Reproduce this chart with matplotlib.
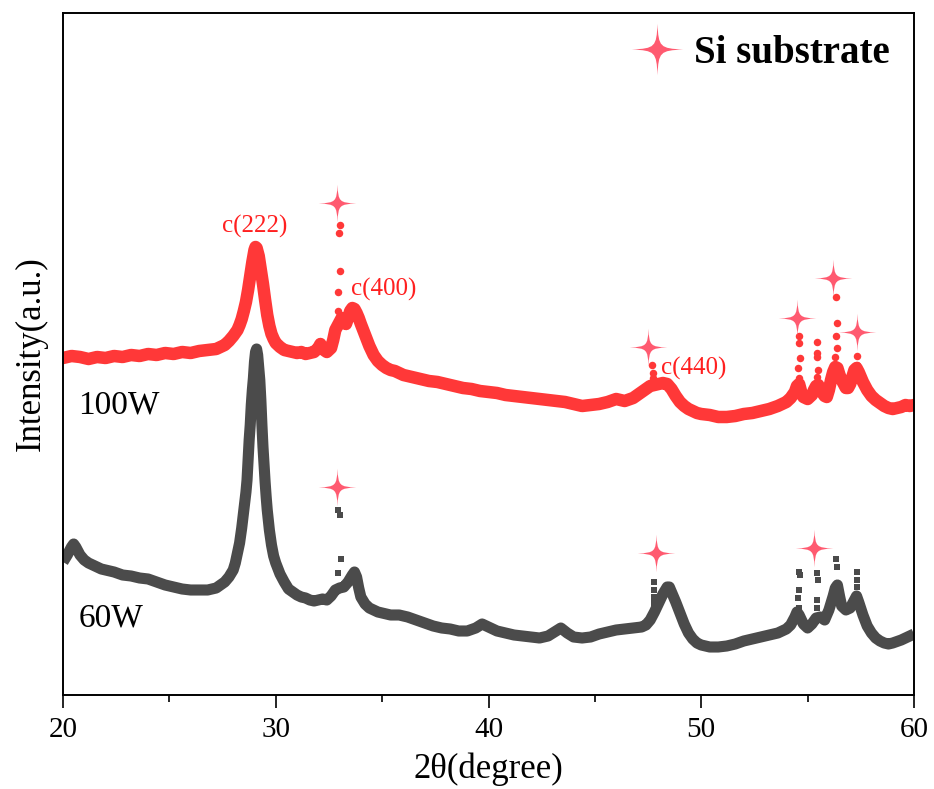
import matplotlib
matplotlib.use('Agg')
import matplotlib.pyplot as plt
from matplotlib.path import Path
from matplotlib.lines import Line2D
from matplotlib.ticker import MultipleLocator

plt.rcParams['font.family'] = ['Liberation Serif', 'DejaVu Serif']

# XRD patterns (2theta in degree, intensity in a.u., 100W already offset upward)
two_theta_100w = [
    20.0, 20.4, 20.8, 21.2, 21.6, 22.0, 22.4, 22.8, 23.2, 23.6, 24.0, 24.4, 24.8, 25.2, 25.6,
    26.0, 26.4, 26.8, 27.2, 27.4, 27.6, 27.8, 28.0, 28.2, 28.3, 28.4, 28.5, 28.6, 28.7, 28.8,
    28.9, 29.0, 29.05, 29.1, 29.2, 29.3, 29.4, 29.5, 29.6, 29.7, 29.8, 29.9, 30.0, 30.2, 30.4,
    30.6, 30.8, 31.0, 31.2, 31.4, 31.6, 31.8, 32.0, 32.1, 32.2, 32.4, 32.6, 32.7, 32.8, 33.0,
    33.1, 33.2, 33.3, 33.4, 33.5, 33.6, 33.7, 33.8, 33.9, 34.0, 34.2, 34.4, 34.6, 34.8, 35.0,
    35.2, 35.4, 35.6, 35.8, 36.0, 36.4, 36.8, 37.2, 37.6, 38.0, 38.4, 38.8, 39.2, 39.6, 40.0,
    40.4, 40.8, 41.2, 41.6, 42.0, 42.4, 42.8, 43.2, 43.6, 44.0, 44.4, 44.8, 45.2, 45.6, 46.0,
    46.4, 46.8, 47.0, 47.2, 47.4, 47.6, 47.8, 48.0, 48.2, 48.4, 48.6, 48.8, 49.0, 49.2, 49.4,
    49.6, 49.8, 50.0, 50.4, 50.8, 51.2, 51.6, 52.0, 52.4, 52.8, 53.2, 53.6, 54.0, 54.2, 54.4,
    54.5, 54.6, 54.7, 54.8, 55.0, 55.2, 55.3, 55.4, 55.5, 55.6, 55.8, 55.9, 56.0, 56.1, 56.2,
    56.3, 56.4, 56.5, 56.6, 56.8, 56.9, 57.0, 57.1, 57.2, 57.3, 57.4, 57.6, 57.8, 58.0, 58.2,
    58.4, 58.6, 58.8, 59.0, 59.2, 59.4, 59.6, 59.8, 60.0,
]
intensity_100w = [
    337, 339, 338, 336, 338, 337, 339, 338, 340, 339, 341, 340, 342, 341, 343,
    342, 344, 345, 346, 348, 350, 354, 359, 365, 370, 376, 384, 393, 405, 419,
    433, 445, 448, 447, 439, 425, 411, 395, 380, 369, 361, 356, 352, 348, 345,
    344, 343, 342, 343, 341, 342, 343, 347, 351, 346, 343, 347, 355, 365, 373,
    377, 375, 371, 377, 384, 387, 386, 382, 377, 371, 360, 349, 340, 334, 330,
    327, 325, 324, 322, 320, 318, 316, 314, 313, 311, 309, 307, 306, 304, 303,
    302, 300, 299, 298, 297, 296, 295, 294, 293, 291, 289, 290, 291, 293, 296,
    294, 297, 300, 303, 306, 309, 310, 311, 312, 311, 306, 299, 293, 289, 286,
    284, 282, 281, 280, 278, 278, 279, 281, 282, 284, 286, 289, 293, 297, 303,
    309, 311, 303, 298, 296, 300, 305, 309, 310, 305, 299, 298, 305, 315, 323,
    328, 327, 320, 315, 307, 307, 311, 318, 325, 327, 323, 313, 305, 299, 295,
    292, 289, 287, 286, 287, 288, 290, 289, 290,
]
# sharp Si reflections of the 100W film
si_theta_100w = [33.02, 32.98, 33.02, 32.94, 32.94,
                 47.70, 47.72, 47.72,
                 54.60, 54.58, 54.62, 54.56, 54.60,
                 55.45, 55.45, 55.43, 55.47, 55.45, 55.45,
                 56.35, 56.38, 56.33, 56.38, 56.30,
                 57.30, 57.30]
si_int_100w = [470, 462, 424, 403, 384,
               330, 322, 317,
               359, 352, 337, 327, 317,
               353, 342, 338, 325, 318, 312,
               398, 372, 359, 347, 338,
               339, 330]

two_theta_60w = [
    20.0, 20.2, 20.4, 20.5, 20.6, 20.8, 21.0, 21.2, 21.4, 21.6, 21.8, 22.0, 22.4, 22.8, 23.2,
    23.6, 24.0, 24.4, 24.8, 25.2, 25.6, 26.0, 26.4, 26.8, 27.2, 27.4, 27.6, 27.8, 28.0, 28.1,
    28.2, 28.3, 28.4, 28.5, 28.6, 28.65, 28.7, 28.75, 28.8, 28.85, 28.9, 28.95, 29.0, 29.05, 29.1,
    29.15, 29.2, 29.25, 29.3, 29.35, 29.4, 29.45, 29.5, 29.55, 29.6, 29.7, 29.8, 29.9, 30.0, 30.2,
    30.4, 30.6, 30.8, 31.0, 31.2, 31.4, 31.6, 31.8, 32.0, 32.2, 32.4, 32.6, 32.8, 33.0, 33.2,
    33.4, 33.6, 33.7, 33.8, 33.9, 34.0, 34.2, 34.4, 34.6, 34.8, 35.0, 35.4, 35.8, 36.2, 36.6,
    37.0, 37.4, 37.8, 38.2, 38.6, 39.0, 39.4, 39.7, 40.0, 40.4, 40.8, 41.2, 41.6, 42.0, 42.4,
    42.8, 43.1, 43.4, 43.7, 44.0, 44.4, 44.8, 45.2, 45.6, 46.0, 46.4, 46.8, 47.2, 47.4, 47.6,
    47.8, 48.0, 48.2, 48.4, 48.5, 48.6, 48.8, 49.0, 49.2, 49.4, 49.6, 49.8, 50.0, 50.4, 50.8,
    51.2, 51.6, 52.0, 52.4, 52.8, 53.2, 53.6, 54.0, 54.2, 54.4, 54.5, 54.6, 54.8, 55.0, 55.2,
    55.4, 55.6, 55.8, 56.0, 56.2, 56.3, 56.4, 56.5, 56.6, 56.8, 57.0, 57.2, 57.3, 57.4, 57.6,
    57.8, 58.0, 58.2, 58.4, 58.6, 58.8, 59.0, 59.4, 59.8, 60.0,
]
intensity_60w = [
    133, 140, 148, 151, 148, 140, 135, 132, 130, 128, 126, 125, 123, 120, 119,
    117, 116, 113, 110, 108, 106, 105, 105, 105, 107, 110, 113, 118, 125, 132,
    142, 152, 167, 185, 203, 215, 235, 255, 270, 290, 305, 317, 333, 343, 346,
    340, 327, 315, 295, 270, 248, 230, 213, 198, 185, 165, 150, 139, 132, 121,
    113, 106, 103, 100, 98, 97, 95, 94, 95, 96, 95, 99, 105, 107, 108,
    113, 120, 123, 118, 107, 98, 91, 87, 85, 83, 82, 80, 80, 78, 75,
    72, 69, 67, 66, 64, 64, 67, 71, 68, 64, 62, 60, 59, 58, 57,
    59, 63, 67, 62, 58, 57, 58, 61, 63, 65, 66, 67, 68, 70, 75,
    83, 92, 101, 108, 108, 103, 93, 82, 71, 62, 56, 52, 50, 48, 48,
    49, 51, 54, 56, 58, 60, 62, 66, 70, 78, 83, 80, 71, 67, 71,
    77, 78, 75, 85, 99, 107, 110, 99, 89, 85, 87, 95, 99, 93, 80,
    69, 62, 57, 54, 52, 51, 52, 55, 59, 61,
]
si_theta_60w = [32.94, 33.02, 33.05, 32.94,
                47.78, 47.78, 47.76, 47.80,
                54.60, 54.62, 54.60, 54.56, 54.60,
                55.45, 55.48, 55.43, 55.45,
                56.35, 56.38, 56.38,
                57.30, 57.32, 57.30]
si_int_60w = [185, 180, 136, 122,
              113, 105, 98, 92,
              123, 120, 105, 97, 87,
              122, 115, 95, 87,
              136, 128, 110,
              123, 115, 108]

# star markers flagging the Si substrate reflections
star_theta = [32.87, 47.51, 54.48, 56.21, 57.31, 32.87, 47.87, 55.31]
star_int = [492, 348, 377, 417, 363, 208, 142, 147]

peak_labels = ['c(222)', 'c(400)', 'c(440)']
peak_label_theta = [29.02, 33.55, 48.1]
peak_label_int = [469, 406, 327]

red = '#ff3838'
gray = '#4b4b4b'
star_color = '#ff5a70'

# four-pointed star with concave sides
star_verts = [(0, 1), (0.04, 0.1), (0.1, 0.04), (1, 0),
              (0.1, -0.04), (0.04, -0.1), (0, -1),
              (-0.04, -0.1), (-0.1, -0.04), (-1, 0),
              (-0.1, 0.04), (-0.04, 0.1), (0, 1), (0, 1)]
star_codes = [Path.MOVETO] + [Path.CURVE4] * 12 + [Path.CLOSEPOLY]
star = Path(star_verts, star_codes)

fig = plt.figure(figsize=(9.34, 7.89), dpi=100)
ax = fig.add_axes([63 / 934, 94 / 789, 851 / 934, 682 / 789])

ax.plot(two_theta_100w, intensity_100w, color=red, lw=9, solid_joinstyle='round',
        solid_capstyle='round')
ax.plot(si_theta_100w, si_int_100w, ls='none', marker='o', ms=5.4, mew=0, color=red)
ax.plot(two_theta_60w, intensity_60w, color=gray, lw=8, solid_joinstyle='round',
        solid_capstyle='butt')
ax.plot(si_theta_60w, si_int_60w, ls='none', marker='s', ms=4.8, mew=0, color=gray)

ax.plot(star_theta, star_int, ls='none', marker=star, ms=27, mew=0, color=star_color)

for lab, x, y in zip(peak_labels, peak_label_theta, peak_label_int):
    ha = 'center' if lab == 'c(222)' else 'left'
    ax.text(x, y, lab, color='#ff2020', fontsize=18, ha=ha, va='center')

ax.text(20.72, 290, '100W', fontsize=24, ha='left', va='center')
ax.text(20.72, 77, '60W', fontsize=24, ha='left', va='center')

handle = Line2D([], [], ls='none', marker=star, ms=37, mew=0, color=star_color,
                label='Si substrate')
ax.legend(handles=[handle], loc='center right', bbox_to_anchor=(0.972, 0.941),
          frameon=False, handlelength=1.0, handletextpad=0.45, borderpad=0,
          borderaxespad=0, prop=dict(family='Liberation Serif', weight='bold', size=28))

ax.set_xlim(20, 60)
ax.set_ylim(0, 682)
ax.xaxis.set_major_locator(MultipleLocator(10))
ax.xaxis.set_minor_locator(MultipleLocator(5))
ax.set_yticks([])
ax.tick_params(axis='x', which='major', direction='out', length=9.5, width=1.2,
               labelsize=21, pad=6)
ax.tick_params(axis='x', which='minor', direction='out', length=5, width=1.2)
for sp in ax.spines.values():
    sp.set_linewidth(1.4)

ax.set_xlabel('2θ(degree)', fontsize=25, labelpad=7)
ax.set_ylabel('Intensity(a.u.)', fontsize=25)
ax.yaxis.set_label_coords(-0.018, 0.5)

fig.savefig('out.png', dpi=100)
